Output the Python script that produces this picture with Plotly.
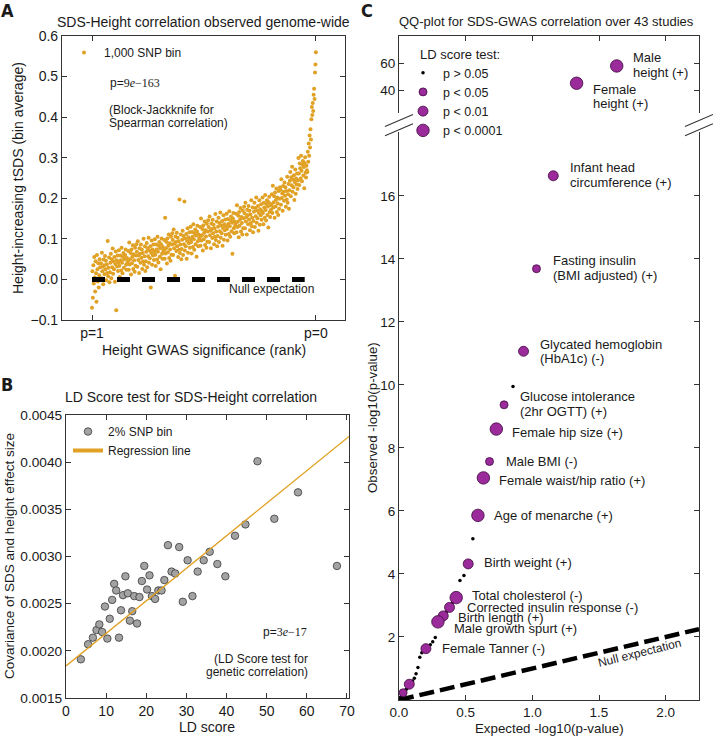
import plotly.graph_objects as go

W, H = 713, 736


def px(v):
    return v / W


def py(v):
    return 1 - v / H


FONT = "Liberation Sans"
GOLD = "#E0A125"
PURPLE = "#9B2A9B"
PURPLE_EDGE = "#3d0a3d"
AX = "#333333"
TXT = "#1a1a1a"

# ---------------- Panel A data: 1,000-SNP bins ranked by height GWAS p (tSDS, x1000)
a_tsds_milli = [
    -70, 20, -45, 35, -10, 55, 5, -30, 45, 15, -55, 60, 25, -5, 40, -20, 10, 50, 30, 0,
    40, 3, 66, 20, 31, -12, 49, 35, 13, 58, 25, 46, -2, 37, 16, 95, 8, 29, 54, -7,
    18, 41, 63, 3, 50, 30, 76, 14, 44, 25, 55, -6, 38, 69, -76, 47, 32, 59, 21, 42,
    72, 34, 6, 59, 47, 22, 78, 41, 15, 56, 65, 29, 50, -2, 60, 74, 36, 24, 53, 42,
    45, 70, 24, 91, 37, 50, 65, 12, 74, 40, 56, 84, 26, 62, 47, 19, 78, 34, 59, 87,
    68, 31, 94, 48, 59, 16, 77, 63, 41, 86, 53, 74, 26, 65, 44, 100, 36, 57, 82, 21,
    45, 68, 90, 30, 77, 57, 103, 41, 71, 52, 82, -20, 65, 96, 36, 74, 59, 86, 48, 69,
    99, 61, 33, 86, 74, 49, 105, 68, 42, 83, 92, 56, 77, 25, 87, 101, 63, 51, 80, 69,
    72, 97, 51, 152, 64, 77, 92, 39, 101, 67, 83, 111, 53, 89, 74, 46, 105, 61, 86, 114,
    97, 60, 123, 77, 88, 9, 106, 92, 70, 115, 82, 103, 55, 94, 73, 197, 65, 86, 111, 50,
    75, 98, 120, 60, 107, 87, 192, 71, 101, 82, 112, 51, 95, 126, 66, 104, 89, 116, 78, 99,
    130, 92, 64, 117, 105, 80, 136, 99, 73, 114, 123, 87, 108, 56, 118, 132, 94, 82, 111, 100,
    104, 129, 83, 150, 96, 109, 124, 71, 133, 99, 115, 143, 85, 121, 106, 78, 137, 93, 118, 146,
    129, 92, 155, 109, 120, 77, 138, 124, 102, 147, 114, 135, 87, 126, 105, 161, 97, 118, 143, 82,
    107, 130, 152, 92, 139, 119, 165, 103, 133, 114, 144, 83, 127, 158, 98, 136, 121, 148, 110, 131,
    162, 124, 96, 149, 137, 112, 168, 131, 105, 146, 155, 119, 140, 63, 150, 164, 126, 114, 143, 132,
    137, 162, 116, 183, 129, 142, 157, 104, 166, 132, 148, 176, 118, 154, 139, 111, 170, 126, 151, 179,
    163, 126, 189, 143, 154, 111, 172, 158, 136, 181, 148, 169, 121, 160, 139, 195, 131, 152, 177, 116,
    144, 167, 189, 129, 176, 156, 202, 140, 170, 151, 181, 120, 164, 195, 135, 173, 158, 185, 147, 168,
    202, 164, 136, 189, 177, 152, 208, 171, 145, 186, 195, 159, 180, 128, 190, 204, 166, 154, 183, 172,
    185, 210, 164, 231, 177, 190, 205, 152, 214, 180, 196, 224, 166, 202, 187, 159, 218, 174, 199, 227,
    221, 184, 247, 201, 212, 169, 230, 216, 194, 239, 206, 227, 179, 218, 197, 253, 189, 210, 235, 174,
    220, 243, 265, 205, 252, 232, 278, 216, 246, 227, 257, 196, 240, 271, 211, 249, 234, 261, 223, 244,
    299, 261, 233, 286, 274, 249, 305, 268, 242, 283, 292, 256, 277, 225, 287, 301, 263, 251, 280, 269,
    265, 315, 290, 335, 305, 355, 325, 370, 345, 395, 425, 405, 435, 415, 455, 470, 445, 510, 530, 560,
]
a_rank_ticktext = ["p=1", "p=0"]
a_null_value = 0.0

# ---------------- Panel B data: 2% SNP bins
b_ld_score = [3.7, 5.5, 6.7, 7.6, 8.3, 9.0, 9.7, 10.3, 10.9, 11.5, 12.0, 12.5, 13.2, 13.7,
              14.2, 14.8, 15.4, 15.9, 16.5, 17.0, 17.7, 18.3, 18.9, 19.5, 20.2, 20.8, 21.4,
              22.2, 23.0, 23.8, 24.5, 25.4, 26.3, 27.2, 28.2, 29.1, 30.3, 31.5, 32.8, 34.3,
              35.8, 37.7, 39.7, 42.1, 44.7, 47.7, 51.9, 57.8, 67.5]
b_cov = [0.00191, 0.00207, 0.00214, 0.00222, 0.00228, 0.00220, 0.00247, 0.00213, 0.00234,
         0.00254, 0.00271, 0.00264, 0.00214, 0.00243, 0.00259, 0.00279, 0.00261, 0.00232,
         0.00242, 0.00258, 0.00229, 0.00257, 0.00274, 0.00290, 0.00265, 0.00280, 0.00258,
         0.00255, 0.00264, 0.00264, 0.00275, 0.00312, 0.00284, 0.00282, 0.00310, 0.00252,
         0.00296, 0.00258, 0.00284, 0.00296, 0.00305, 0.00292, 0.00279, 0.00322, 0.00334,
         0.00401, 0.00340, 0.00368, 0.00290]
b_reg_intercept = 0.00184
b_reg_slope = 3.45e-5

# ---------------- Panel C data: 43 GWAS studies
c_study = ["Male height", "Female height", "Infant head circumference", "Fasting insulin",
           "Glycated hemoglobin", "s6", "Glucose intolerance", "Female hip size", "Male BMI",
           "Female waist/hip ratio", "Age of menarche", "s12", "Birth weight", "s14", "s15",
           "Total cholesterol", "s17", "Corrected insulin response", "s19", "Birth length",
           "s21", "Male growth spurt", "s23", "s24", "s25", "s26", "Female Tanner", "s28",
           "s29", "s30", "s31", "s32", "s33", "s34", "s35", "s36", "s37", "s38", "s39", "s40",
           "s41", "s42", "s43"]
c_expected = [1.633, 1.332, 1.157, 1.031, 0.934, 0.855, 0.788, 0.730, 0.679, 0.633, 0.592,
              0.554, 0.519, 0.487, 0.457, 0.429, 0.403, 0.379, 0.356, 0.332, 0.311, 0.292,
              0.272, 0.253, 0.235, 0.218, 0.202, 0.186, 0.171, 0.156, 0.142, 0.128, 0.115,
              0.102, 0.089, 0.077, 0.065, 0.054, 0.042, 0.031, 0.020, 0.010, 0.000]
c_observed = [57.8, 45.0, 16.64, 13.69, 11.07, 9.95, 9.37, 8.60, 7.57, 7.05, 5.86, 5.12,
              4.32, 3.95, 3.79, 3.25, 3.10, 2.94, 2.80, 2.67, 2.55, 2.48, 1.98, 1.85, 1.75,
              1.70, 1.63, 1.61, 1.50, 1.36, 1.03, 0.83, 0.69, 0.60, 0.55, 0.50, 0.39, 0.33,
              0.30, 0.23, 0.12, 0.08, 0.05]
c_ldtest = ["p < 0.0001", "p < 0.0001", "p < 0.01", "p < 0.05", "p < 0.01", "p > 0.05",
            "p < 0.05", "p < 0.0001", "p < 0.05", "p < 0.0001", "p < 0.0001", "p > 0.05",
            "p < 0.01", "p > 0.05", "p > 0.05", "p < 0.0001", "p > 0.05", "p < 0.01",
            "p > 0.05", "p < 0.01", "p > 0.05", "p < 0.0001", "p > 0.05", "p > 0.05",
            "p > 0.05", "p > 0.05", "p < 0.01", "p > 0.05", "p > 0.05", "p > 0.05",
            "p > 0.05", "p > 0.05", "p > 0.05", "p > 0.05", "p > 0.05", "p < 0.01",
            "p > 0.05", "p > 0.05", "p > 0.05", "p < 0.05", "p > 0.05", "p > 0.05", "p > 0.05"]
c_label_text = {
    "Male height": ["Male", "height (+)"],
    "Female height": ["Female", "height (+)"],
    "Infant head circumference": ["Infant head", "circumference (+)"],
    "Fasting insulin": ["Fasting insulin", "(BMI adjusted) (+)"],
    "Glycated hemoglobin": ["Glycated hemoglobin", "(HbA1c) (-)"],
    "Glucose intolerance": ["Glucose intolerance", "(2hr OGTT) (+)"],
    "Female hip size": ["Female hip size (+)"],
    "Male BMI": ["Male BMI (-)"],
    "Female waist/hip ratio": ["Female waist/hip ratio (+)"],
    "Age of menarche": ["Age of menarche (+)"],
    "Birth weight": ["Birth weight (+)"],
    "Total cholesterol": ["Total cholesterol (-)"],
    "Corrected insulin response": ["Corrected insulin response (-)"],
    "Birth length": ["Birth length (+)"],
    "Male growth spurt": ["Male growth spurt (+)"],
    "Female Tanner": ["Female Tanner (-)"],
}
c_categories = ["p > 0.05", "p < 0.05", "p < 0.01", "p < 0.0001"]

# ---------------- styling / placement (not data)
label_offsets = {  # (xshift px, first-line offset below marker px)
    "Male height": (14, -8), "Female height": (14, 6),
    "Infant head circumference": (15, -8), "Fasting insulin": (15, -8),
    "Glycated hemoglobin": (14, -7), "Glucose intolerance": (14, -8),
    "Female hip size": (14, 3), "Male BMI": (14, 0), "Female waist/hip ratio": (14, 3),
    "Age of menarche": (14, 0), "Birth weight": (14, -1), "Total cholesterol": (14, -2),
    "Corrected insulin response": (15, 0), "Birth length": (13, 2),
    "Male growth spurt": (14, 7), "Female Tanner": (14, 0),
}
cat_size = {"p > 0.05": 3.5, "p < 0.05": 8, "p < 0.01": 10, "p < 0.0001": 12.5}
C_BREAK = 20.0

N = len(a_tsds_milli)
a_rank = list(range(N))
a_tsds = [v / 1000 for v in a_tsds_milli]

fig = go.Figure()

# Panel A
fig.add_trace(go.Scatter(x=a_rank, y=a_tsds, mode="markers", name="1,000 SNP bin",
                         marker=dict(size=4, color=GOLD, opacity=1), legend="legend",
                         xaxis="x", yaxis="y"))
fig.add_trace(go.Scatter(x=[0, 0.95 * (N - 1)], y=[a_null_value, a_null_value], mode="lines",
                         line=dict(color="black", width=5, dash="13px,12px"),
                         showlegend=False, xaxis="x", yaxis="y"))

# Panel B
fig.add_trace(go.Scatter(x=b_ld_score, y=b_cov, mode="markers", name="2% SNP bin",
                         marker=dict(size=7.5, color="#a3a3a3", opacity=1,
                                     line=dict(color="#3a3a3a", width=0.8)),
                         legend="legend2", xaxis="x2", yaxis="y2"))
b_x_end = 70.5
fig.add_trace(go.Scatter(x=[0, b_x_end],
                         y=[b_reg_intercept, b_reg_intercept + b_reg_slope * b_x_end],
                         mode="lines", line=dict(color=GOLD, width=1.3), showlegend=False,
                         xaxis="x2", yaxis="y2"))
fig.add_trace(go.Scatter(x=[None], y=[None], mode="lines", name="Regression line",
                         line=dict(color=GOLD, width=4), legend="legend2",
                         xaxis="x2", yaxis="y2"))

# Panel C
fig.add_trace(go.Scatter(x=[0, 2.25], y=[0, 2.25], mode="lines",
                         line=dict(color="black", width=4.5, dash="15px,6px"),
                         showlegend=False, xaxis="x3", yaxis="y3"))
for cat in c_categories:
    xs = [e for e, o, c in zip(c_expected, c_observed, c_ldtest) if c == cat and o < C_BREAK]
    ys = [o for e, o, c in zip(c_expected, c_observed, c_ldtest) if c == cat and o < C_BREAK]
    if cat == "p > 0.05":
        mk = dict(size=cat_size[cat], color="black", opacity=1)
    else:
        mk = dict(size=cat_size[cat], color=PURPLE, opacity=1,
                  line=dict(color=PURPLE_EDGE, width=0.8))
    fig.add_trace(go.Scatter(x=xs, y=ys, mode="markers", name=cat, marker=mk,
                             legend="legend3", xaxis="x3", yaxis="y3"))
up_x = [e for e, o in zip(c_expected, c_observed) if o >= C_BREAK]
up_y = [o for o in c_observed if o >= C_BREAK]
up_s = [cat_size[c] for o, c in zip(c_observed, c_ldtest) if o >= C_BREAK]
fig.add_trace(go.Scatter(x=up_x, y=up_y, mode="markers", showlegend=False,
                         marker=dict(size=up_s, color=PURPLE, opacity=1,
                                     line=dict(color=PURPLE_EDGE, width=0.8)),
                         xaxis="x4", yaxis="y4"))


def axstyle(size):
    return dict(showline=True, linecolor=AX, linewidth=1.2, ticks="inside", ticklen=5,
                tickwidth=1, tickcolor=AX, showgrid=False, zeroline=False, automargin=False,
                tickfont=dict(family=FONT, size=size, color=TXT))


annotations = []


def ann(text, x, y, size=13, xanchor="center", yanchor="middle", xref="paper", yref="paper",
        xshift=0, yshift=0, angle=0, family=FONT):
    annotations.append(dict(text=text, x=x, y=y, xref=xref, yref=yref, showarrow=False,
                            xanchor=xanchor, yanchor=yanchor, xshift=xshift, yshift=yshift,
                            textangle=angle,
                            font=dict(family=family, size=size, color=TXT)))


# panel letters and titles
LETTER_FONT = "DejaVu Sans Condensed, Liberation Sans"
ann("<b>A</b>", px(7), py(10), size=18, family=LETTER_FONT)
ann("<b>B</b>", px(7), py(384), size=18, family=LETTER_FONT)
ann("<b>C</b>", px(367), py(10), size=18, family=LETTER_FONT)
ann("SDS-Height correlation observed genome-wide", px(203), py(22), size=14)
ann("LD Score test for SDS-Height correlation", px(191), py(397), size=14)
ann("QQ-plot for SDS-GWAS correlation over 43 studies", px(546), py(22), size=13)
# axis titles
ann("Height-increasing tSDS (bin average)", px(18), py(178), size=14, angle=-90)
ann("Height GWAS significance (rank)", px(204), py(350), size=14)
ann("Covariance of SDS and height effect size", px(9), py(556), size=13.5, angle=-90)
ann("LD score", px(207), py(727), size=14)
ann("Observed -log10(p-value)", px(372), py(418), size=13.3, angle=-90)
ann("Expected -log10(p-value)", px(549), py(728), size=13.3)

SERIF = "Liberation Serif"
# panel A notes
ann('p=<span style="font-family:%s">9<i>e</i>−163</span>' % SERIF, px(108), py(83), size=12,
    xanchor="left")
ann("(Block-Jackknife for", px(107), py(110), size=12, xanchor="left")
ann("Spearman correlation)", px(107), py(123), size=12, xanchor="left")
ann("Null expectation", 0.603 * (N - 1), -0.024, size=12, xanchor="left", xref="x", yref="y")
# panel B notes
ann('p=<span style="font-family:%s">3<i>e</i>−17</span>' % SERIF, px(309), py(632), size=12,
    xanchor="right")
ann("(LD Score test for", px(310), py(659), size=12, xanchor="right")
ann("genetic correlation)", px(310), py(672), size=12, xanchor="right")
# panel C notes
ann("LD score test:", px(418), py(54), size=13, xanchor="left")
ann("Null expectation", 1.80, 1.49, size=12, xref="x3", yref="y3", angle=-14)
LINE_H = 14.5
for s, e, o in zip(c_study, c_expected, c_observed):
    if s not in c_label_text:
        continue
    xs_, dy = label_offsets[s]
    lines = c_label_text[s]
    n = len(lines)
    xr, yr = ("x4", "y4") if o >= C_BREAK else ("x3", "y3")
    for i, line in enumerate(lines):
        off = dy + i * LINE_H if n > 1 else dy
        ann(line, e, o, size=13, xanchor="left", xref=xr, yref=yr, xshift=xs_, yshift=-off)

# break marks on the C y-axis
shapes = []
for cx in (399, 699):
    for cy in (120.5, 129.7):
        shapes.append(dict(type="line", xref="paper", yref="paper",
                           x0=px(cx - 14), y0=py(cy + 6), x1=px(cx + 14), y1=py(cy - 6),
                           line=dict(color=AX, width=1.1)))


def legend_style(size):
    return dict(bgcolor="rgba(0,0,0,0)", borderwidth=0, xanchor="left", yanchor="top",
                font=dict(family=FONT, size=size, color=TXT), itemsizing="trace",
                tracegroupgap=0)


fig.update_layout(
    width=W, height=H, margin=dict(l=0, r=0, t=0, b=0, pad=0, autoexpand=False),
    paper_bgcolor="white", plot_bgcolor="white", showlegend=True,
    xaxis=dict(domain=[px(62), px(345)], anchor="y", range=[-0.134 * (N - 1), 1.13 * (N - 1)],
               tickvals=[0, N - 1], ticktext=a_rank_ticktext, mirror="ticks", **axstyle(14)),
    yaxis=dict(domain=[py(320), py(36)], anchor="x", range=[-0.1, 0.6], dtick=0.1,
               tickformat=".1f", mirror="ticks", **axstyle(14)),
    xaxis2=dict(domain=[px(66), px(349)], anchor="y2", range=[0, 70.5], dtick=10,
                mirror="ticks", **axstyle(14)),
    yaxis2=dict(domain=[py(698), py(415)], anchor="x2", range=[0.0015, 0.0045], dtick=0.0005,
                tickformat=".4f", mirror="ticks", **axstyle(13.7)),
    xaxis3=dict(domain=[px(399), px(699)], anchor="y3", range=[0, 2.25],
                tickvals=[0, 0.5, 1.0, 1.5, 2.0], tickformat=".1f", **axstyle(13.5)),
    yaxis3=dict(domain=[py(700), py(132)], anchor="x3", range=[0, 18.03],
                tickvals=[2, 4, 6, 8, 10, 12, 14, 16], mirror="ticks", **axstyle(13.5)),
    xaxis4=dict(domain=[px(399), px(699)], anchor="y4", range=[0, 2.25], side="top",
                tickvals=[0, 0.5, 1.0, 1.5, 2.0], showticklabels=False, **axstyle(13.5)),
    yaxis4=dict(domain=[py(113), py(36)], anchor="x4", range=[22.96, 80],
                tickvals=[40, 60], mirror="ticks", **axstyle(13.5)),
    legend=dict(x=px(64), y=py(38), **legend_style(12)),
    legend2=dict(x=px(68), y=py(417), **legend_style(12)),
    legend3=dict(x=px(403), y=py(58), **legend_style(12.5)),
    annotations=annotations,
    shapes=shapes,
)

# the page's default 8px body margin would shift the figure; remove it
fig.write_html("out.html", config={"displayModeBar": False},
               post_script="document.body.style.margin='0px';")
